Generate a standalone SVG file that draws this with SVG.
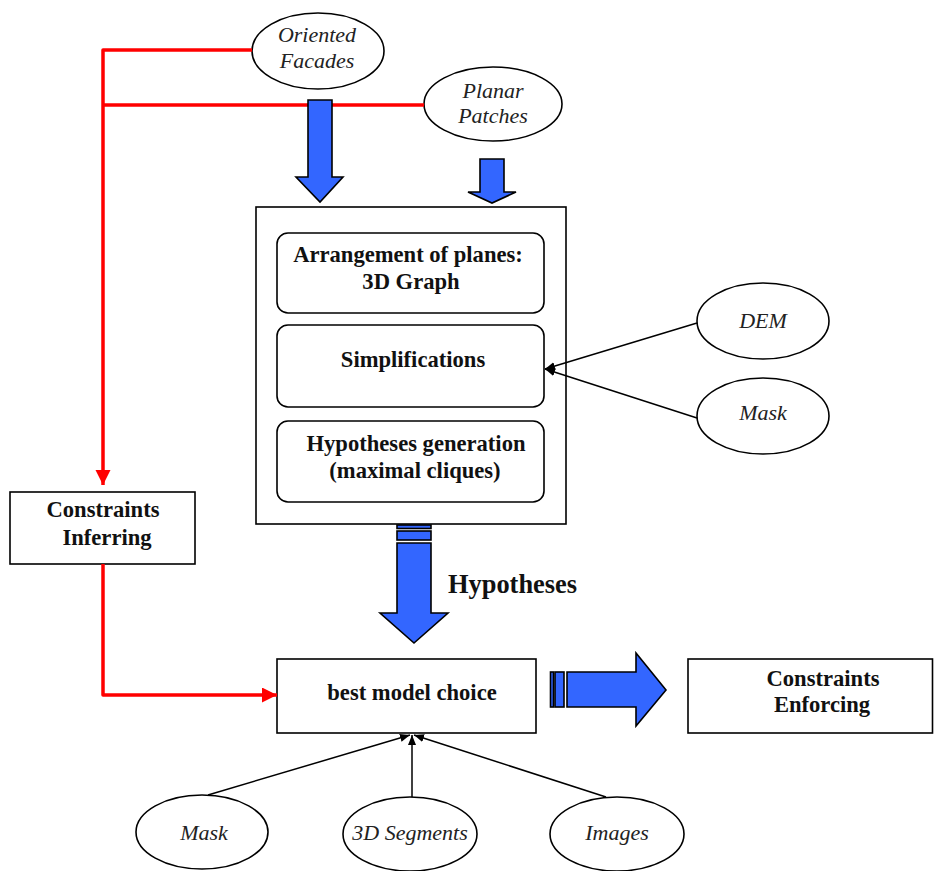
<svg xmlns="http://www.w3.org/2000/svg" width="934" height="871" viewBox="0 0 934 871">
  <style>
    .box { fill: #ffffff; stroke: #000000; stroke-width: 1.6; }
    .ell { fill: #ffffff; stroke: #000000; stroke-width: 1.6; }
    .btxt { font-family: "Liberation Serif", "Times New Roman", serif; font-weight: bold; font-size: 22.6px; fill: #111111; text-anchor: middle; }
    .itxt { font-family: "Liberation Serif", "Times New Roman", serif; font-style: italic; font-size: 22px; fill: #222222; text-anchor: middle; }
    .red { fill: none; stroke: #ff0000; stroke-width: 3.5; stroke-linejoin: round; }
    .thin { fill: none; stroke: #000000; stroke-width: 1.5; }
    .blk { fill: #3366ff; stroke: #000000; stroke-width: 1.6; stroke-linejoin: miter; }
  </style>
  <defs>
    <marker id="redHead" markerUnits="userSpaceOnUse" markerWidth="16" markerHeight="16" refX="15" refY="7.5" orient="auto">
      <path d="M0,0 L15,7.5 L0,15 Z" fill="#ff0000"/>
    </marker>
    <marker id="blackHead" markerUnits="userSpaceOnUse" markerWidth="11" markerHeight="9" refX="10" refY="4" orient="auto">
      <path d="M0,0 L10,4 L0,8 Z" fill="#000000"/>
    </marker>
  </defs>

  <rect width="934" height="871" fill="#ffffff"/>

  <g id="oriented-facades">
    <ellipse class="ell" cx="318" cy="51" rx="66" ry="38"/>
    <text class="itxt" x="317" y="42">Oriented</text>
    <text class="itxt" x="317" y="68">Facades</text>
  </g>

  <g id="planar-patches">
    <ellipse class="ell" cx="493" cy="104" rx="69" ry="37"/>
    <text class="itxt" x="493" y="98">Planar</text>
    <text class="itxt" x="493" y="123">Patches</text>
  </g>

  <g id="planes-box">
    <rect class="box" x="256" y="207" width="310" height="317"/>
  </g>

  <g id="arrangement">
    <rect class="box" x="277" y="233" width="267" height="80" rx="11"/>
    <text class="btxt" x="408" y="262">Arrangement of planes:</text>
    <text class="btxt" x="411" y="289">3D Graph</text>
  </g>

  <g id="simplifications">
    <rect class="box" x="277" y="325" width="267" height="82" rx="11"/>
    <text class="btxt" x="413" y="367">Simplifications</text>
  </g>

  <g id="hypotheses-generation">
    <rect class="box" x="277" y="421" width="267" height="81" rx="11"/>
    <text class="btxt" x="416" y="451">Hypotheses generation</text>
    <text class="btxt" x="415" y="478">(maximal cliques)</text>
  </g>

  <g id="dem">
    <ellipse class="ell" cx="763" cy="321" rx="66" ry="38"/>
    <text class="itxt" x="763" y="328">DEM</text>
  </g>

  <g id="mask-right">
    <ellipse class="ell" cx="763" cy="416" rx="66" ry="38"/>
    <text class="itxt" x="763" y="420">Mask</text>
  </g>

  <g id="constraints-inferring">
    <rect class="box" x="10" y="492" width="185" height="72"/>
    <text class="btxt" x="103" y="517">Constraints</text>
    <text class="btxt" x="107" y="545">Inferring</text>
  </g>

  <g id="hypotheses-label">
    <text class="btxt" x="448" y="593" style="font-size:26.4px; text-anchor:start">Hypotheses</text>
  </g>

  <g id="best-model-choice">
    <rect class="box" x="277" y="659" width="259" height="74"/>
    <text class="btxt" x="412" y="700">best model choice</text>
  </g>

  <g id="constraints-enforcing">
    <rect class="box" x="688" y="659" width="244.5" height="74"/>
    <text class="btxt" x="823" y="686">Constraints</text>
    <text class="btxt" x="822" y="712">Enforcing</text>
  </g>

  <g id="mask-bottom">
    <ellipse class="ell" cx="202" cy="832" rx="66" ry="37"/>
    <text class="itxt" x="204" y="840">Mask</text>
  </g>

  <g id="segments-3d">
    <ellipse class="ell" cx="410" cy="834" rx="67" ry="37"/>
    <text class="itxt" x="410" y="840">3D Segments</text>
  </g>

  <g id="images">
    <ellipse class="ell" cx="617" cy="834" rx="67" ry="37"/>
    <text class="itxt" x="617" y="840">Images</text>
  </g>

  <!-- connectors: red constraint paths, thin input lines, block arrows (drawn last so they sit on top) -->
  <g id="connectors">
    <path class="red" d="M252,50 H103 V485" marker-end="url(#redHead)"/>
    <path class="red" d="M424,105 H103"/>
    <path class="red" d="M103,564 V695 H277" marker-end="url(#redHead)"/>

    <path class="thin" d="M697,323 L545,369" marker-end="url(#blackHead)"/>
    <path class="thin" d="M697,418 L545,369" marker-end="url(#blackHead)"/>

    <path class="thin" d="M208,795 L410,735" marker-end="url(#blackHead)"/>
    <path class="thin" d="M412,797 V735" marker-end="url(#blackHead)"/>
    <path class="thin" d="M606,797 L414,735" marker-end="url(#blackHead)"/>

    <!-- block arrows into the planes box -->
    <path class="blk" d="M308,100 L332,100 L332,177 L343,177 L320,202 L296,177 L308,177 Z"/>
    <path class="blk" d="M480,159 L504,159 L504,192 L516,192 L492,203 L468,192 L480,192 Z"/>

    <!-- striped arrow: hypotheses -->
    <rect class="blk" x="397" y="525" width="34" height="3.5"/>
    <rect class="blk" x="397" y="531" width="34" height="9"/>
    <path class="blk" d="M397,543 L431,543 L431,613 L448,613 L414,643 L380,613 L397,613 Z"/>

    <!-- striped arrow: towards enforcing -->
    <rect class="blk" x="550.5" y="672" width="3" height="35"/>
    <rect class="blk" x="555" y="672" width="9" height="35"/>
    <path class="blk" d="M567,672 L636,672 L636,653 L666,690 L636,726 L636,707 L567,707 Z"/>
  </g>
</svg>
